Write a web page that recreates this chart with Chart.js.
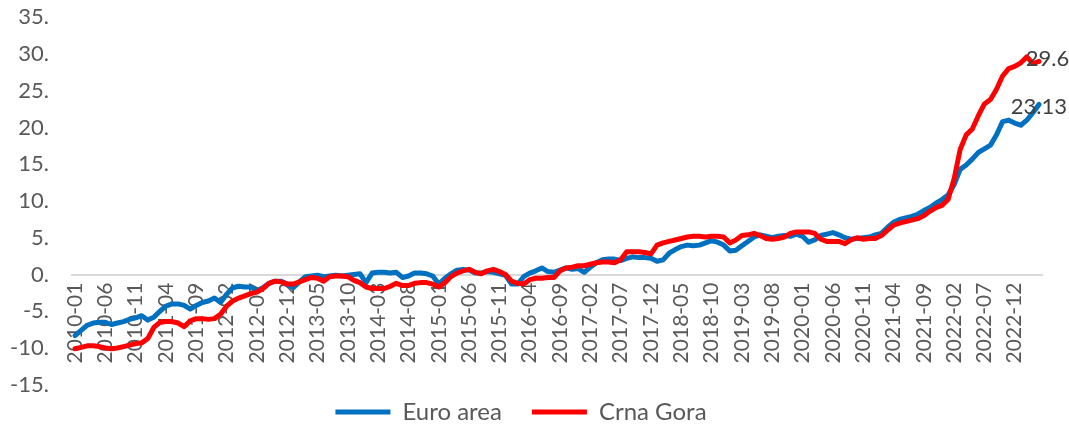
<!DOCTYPE html>
<html>
<head>
<meta charset="utf-8">
<script src="https://cdn.jsdelivr.net/npm/chart.js@4/dist/chart.umd.min.js"></script>
<style>
  html, body { margin: 0; padding: 0; background: #fff; }
  #wrap { width: 1069px; height: 428px; }
</style>
</head>
<body>
<div id="wrap"><canvas id="chart"></canvas></div>
<script>
// monthly categories 2010-01 .. 2023-04
const firstYear = 2010;
const monthCount = 160;
const months = [];
for (let i = 0; i < monthCount; i++) {
    const y = firstYear + Math.floor(i / 12);
    const m = (i % 12) + 1;
    months.push(y + '-' + (m < 10 ? '0' + m : m));
}

const euroArea = [
    -8.3, -7.6, -6.9, -6.6, -6.5, -6.5, -6.8, -6.6, -6.4, -6.1, -5.9, -5.6,
    -6.2, -5.8, -5.0, -4.3, -4.0, -4.0, -4.2, -4.7, -4.2, -3.8, -3.6, -3.2,
    -3.8, -2.7, -1.8, -1.6, -1.7, -1.7, -2.2, -1.8, -1.2, -0.9, -0.9, -1.3,
    -1.8, -1.0, -0.3, -0.2, -0.1, -0.3, -0.2, -0.1, -0.2, -0.1, 0.0, 0.1,
    -1.1, 0.2, 0.3, 0.3, 0.2, 0.3, -0.4, -0.2, 0.2, 0.2, 0.1, -0.2,
    -1.3, -0.5, 0.1, 0.6, 0.7, 0.6, 0.2, 0.2, 0.4, 0.3, 0.1, -0.1,
    -1.3, -1.3, -0.3, 0.2, 0.5, 0.9, 0.4, 0.3, 0.6, 0.9, 0.7, 0.8,
    0.3, 1.0, 1.6, 2.0, 2.1, 2.1, 1.9, 2.2, 2.4, 2.3, 2.3, 2.2,
    1.8, 2.0, 2.9, 3.4, 3.8, 4.0, 3.9, 4.0, 4.3, 4.6, 4.4, 4.0,
    3.2, 3.3, 3.9, 4.5, 5.1, 5.4, 5.2, 5.0, 5.2, 5.3, 5.2, 5.5,
    5.2, 4.4, 4.7, 5.3, 5.5, 5.7, 5.4, 5.0, 4.8, 4.9, 5.0, 5.1,
    5.4, 5.6, 6.4, 7.1, 7.5, 7.7, 7.9, 8.2, 8.7, 9.1, 9.7, 10.2,
    10.8, 12.2, 14.3, 14.9, 15.7, 16.6, 17.1, 17.6, 19.0, 20.8, 21.0, 20.6,
    20.3, 21.0, 22.0, 23.13
];

const crnaGora = [
    -10.1, -9.9, -9.7, -9.7, -9.8, -10.0, -10.1, -10.0, -9.8, -9.6, -9.4, -9.3,
    -8.7, -7.2, -6.5, -6.4, -6.4, -6.6, -7.1, -6.3, -6.0, -6.0, -6.1, -6.0,
    -5.4, -4.3, -3.6, -3.2, -2.9, -2.6, -2.4, -1.9, -1.2, -0.9, -1.0, -1.3,
    -1.3, -1.0, -0.7, -0.4, -0.5, -0.9, -0.3, -0.2, -0.2, -0.3, -0.8, -1.1,
    -1.7, -1.9, -1.9, -1.9, -1.6, -1.2, -1.5, -1.5, -1.2, -1.1, -1.1, -1.3,
    -1.7, -1.1, -0.3, 0.2, 0.5, 0.7, 0.3, 0.1, 0.5, 0.7, 0.4, 0.0,
    -0.9, -1.2, -1.3, -0.7, -0.5, -0.5, -0.4, -0.4, 0.5, 0.9, 1.0, 1.2,
    1.2, 1.4, 1.6, 1.7, 1.7, 1.6, 2.0, 3.1, 3.1, 3.1, 3.0, 2.8,
    4.0, 4.3, 4.5, 4.7, 4.9, 5.1, 5.2, 5.2, 5.1, 5.2, 5.2, 5.1,
    4.3, 4.7, 5.3, 5.4, 5.6, 5.3, 4.9, 4.8, 4.9, 5.1, 5.6, 5.8,
    5.8, 5.8, 5.6, 4.8, 4.5, 4.5, 4.5, 4.2, 4.7, 5.0, 4.8, 4.9,
    4.9, 5.3, 6.0, 6.7, 7.0, 7.2, 7.4, 7.6, 8.0, 8.6, 9.1, 9.4,
    10.2, 13.0, 17.0, 19.0, 19.8, 21.6, 23.2, 23.8, 25.2, 27.0, 28.0, 28.3,
    28.8, 29.6, 28.7, 29.0
];

const yMin = -15;
const yMax = 35;
const yStep = 5;
const labelEvery = 5;

const textGray = '#595959';

// value labels near the end of each line
const endLabels = {
    id: 'endLabels',
    afterDatasetsDraw(chart) {
        const ctx = chart.ctx;
        ctx.save();
        ctx.font = '22px Lato';
        ctx.fillStyle = '#404040';
        ctx.textBaseline = 'middle';
        chart.data.datasets.forEach((ds, i) => {
            if (ds.labelIndex === undefined) return;
            const pt = chart.getDatasetMeta(i).data[ds.labelIndex];
            ctx.textAlign = ds.labelAlign;
            ctx.fillText(String(ds.data[ds.labelIndex]), pt.x + ds.labelDx, pt.y + 2);
        });
        ctx.restore();
    }
};

Chart.defaults.font.family = 'Lato';

new Chart(document.getElementById('chart'), {
    type: 'line',
    data: {
        labels: months,
        datasets: [
            {
                label: 'Euro area',
                data: euroArea,
                borderColor: '#0070C0',
                backgroundColor: '#0070C0',
                borderWidth: 5,
                borderCapStyle: 'round',
                borderJoinStyle: 'round',
                pointRadius: 0,
                tension: 0,
                order: 1,
                labelIndex: euroArea.length - 1,
                labelAlign: 'center',
                labelDx: 0
            },
            {
                label: 'Crna Gora',
                data: crnaGora,
                borderColor: '#FF0000',
                backgroundColor: '#FF0000',
                borderWidth: 5,
                borderCapStyle: 'round',
                borderJoinStyle: 'round',
                pointRadius: 0,
                tension: 0,
                order: 0,
                labelIndex: crnaGora.indexOf(Math.max(...crnaGora)),
                labelAlign: 'left',
                labelDx: -1
            }
        ]
    },
    options: {
        responsive: true,
        maintainAspectRatio: false,
        animation: false,
        layout: { padding: { left: 0, right: 27, top: 0, bottom: -6 } },
        scales: {
            x: {
                type: 'category',
                position: { y: 0 },
                offset: true,
                grid: { display: false, drawTicks: false },
                border: { display: true, color: '#d9d9d9', width: 2 },
                ticks: {
                    autoSkip: false,
                    maxRotation: 90,
                    minRotation: 90,
                    padding: 8,
                    color: textGray,
                    font: { size: 21 },
                    callback: function (v, i) {
                        return i % labelEvery === 0 ? this.getLabelForValue(v) : null;
                    }
                }
            },
            y: {
                min: yMin,
                max: yMax,
                grid: { display: false, drawTicks: true, tickLength: 19 },
                border: { display: false },
                afterFit: s => { s.width = 72; },
                ticks: {
                    stepSize: yStep,
                    padding: 4,
                    color: textGray,
                    font: { size: 22 },
                    callback: v => v + '.'
                }
            }
        },
        plugins: {
            tooltip: { enabled: false },
            legend: {
                position: 'bottom',
                title: { display: true, text: '', font: { size: 1 }, padding: { top: 0, bottom: 14 } },
                labels: {
                    usePointStyle: true,
                    pointStyle: 'line',
                    pointStyleWidth: 55,
                    padding: 0,
                    color: textGray,
                    font: { size: 24 },
                    sort: (a, b) => a.datasetIndex - b.datasetIndex,
                    generateLabels: chart => {
                        const items = Chart.defaults.plugins.legend.labels.generateLabels(chart);
                        items.forEach(it => {
                            if (it.datasetIndex === 0) it.text += '\u2003\u2002';
                        });
                        return items;
                    }
                }
            }
        }
    },
    plugins: [endLabels]
});
</script>
</body>
</html>
